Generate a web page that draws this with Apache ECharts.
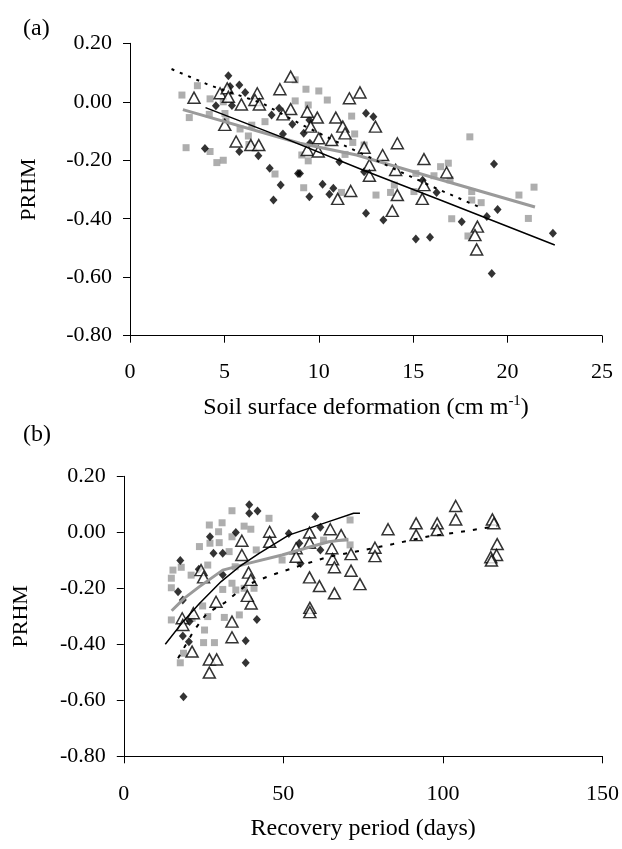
<!DOCTYPE html>
<html>
<head>
<meta charset="utf-8">
<script src="https://cdn.jsdelivr.net/npm/echarts/dist/echarts.min.js"></script>
<style>
  html, body { margin: 0; padding: 0; background: #fff; }
  #chart { width: 622px; height: 849px; }
</style>
</head>
<body>
<div id="chart"></div>
<script>
// ---------- tick values ----------
const yTicks = [-0.8, -0.6, -0.4, -0.2, 0.0, 0.2];
const xTicksA = [0, 5, 10, 15, 20, 25];
const xTicksB = [0, 50, 100, 150];

// ---------- panel (a): soil surface deformation (cm m-1) vs PRHM ----------
const diamondsA = [
  [5.21,0.089],[5.79,0.057],[5.3,0.052],[6.1,0.032],[5.4,-0.013],[4.55,-0.014],[7.5,-0.045],
  [8.6,-0.077],[8.1,-0.11],[7.9,-0.022],[5.79,-0.17],[6.8,-0.185],[3.97,-0.16],[8.9,-0.245],
  [7.98,-0.285],[7.6,-0.336],[7.4,-0.227],[12.5,-0.039],[12.89,-0.051],[9.2,-0.108],[9.5,-0.062],
  [9.53,-0.142],[9.0,-0.245],[9.5,-0.325],[10.2,-0.282],[10.77,-0.296],[10.56,-0.316],[11.09,-0.205],
  [12.4,-0.239],[12.5,-0.381],[13.42,-0.404],[15.14,-0.469],[15.89,-0.463],[16.24,-0.31],[15.5,-0.268],
  [19.28,-0.213],[17.57,-0.41],[18.9,-0.392],[19.47,-0.368],[19.16,-0.587],[22.4,-0.45]
];
const squaresA = [
  [3.57,0.055],[2.75,0.023],[4.24,0.01],[3.14,-0.054],[4.2,-0.043],[5.03,-0.04],[4.94,0.0],
  [2.97,-0.157],[4.24,-0.17],[4.94,-0.2],[4.6,-0.208],[5.83,-0.093],[6.27,-0.117],[6.45,-0.08],
  [7.15,-0.068],[6.3,-0.146],[7.68,-0.247],[8.75,0.003],[8.75,0.075],[5.08,-0.065],
  [9.32,0.043],[10.0,0.037],[10.45,0.006],[9.44,-0.011],[11.74,-0.049],[11.9,-0.11],[11.8,-0.139],
  [12.4,-0.148],[11.39,-0.18],[9.44,-0.202],[9.1,-0.182],[9.2,-0.294],[11.2,-0.31],[13.03,-0.319],
  [13.8,-0.31],[15.04,-0.307],[15.14,-0.245],[16.1,-0.253],[14.0,-0.285],[16.86,-0.21],[16.45,-0.222],
  [16.95,-0.267],[18.1,-0.307],[18.1,-0.336],[18.6,-0.345],[17.04,-0.4],[17.9,-0.459],[21.4,-0.292],
  [20.6,-0.319],[21.1,-0.399],[18.0,-0.12]
];
const trianglesA = [
  [3.39,0.014],[4.77,0.029],[5.15,0.046],[5.21,0.017],[5.9,-0.009],[6.74,0.029],[6.62,0.006],
  [6.85,-0.009],[8.51,0.086],[7.94,0.043],[8.51,-0.025],[8.1,-0.043],[5.02,-0.079],[5.62,-0.136],
  [6.4,-0.148],[6.82,-0.148],[12.18,0.032],[11.62,0.012],[9.39,-0.034],[9.92,-0.054],[10.9,-0.054],
  [11.27,-0.085],[9.57,-0.085],[11.39,-0.108],[10.0,-0.125],[10.68,-0.131],[9.39,-0.165],[9.97,-0.17],
  [13.0,-0.085],[12.4,-0.157],[14.16,-0.142],[13.38,-0.182],[12.68,-0.216],[12.68,-0.253],[14.07,-0.233],
  [15.57,-0.196],[15.57,-0.285],[14.16,-0.319],[11.69,-0.305],[11.0,-0.332],[15.48,-0.332],[13.89,-0.373],
  [16.77,-0.242],[18.4,-0.427],[18.27,-0.456],[18.36,-0.505]
];
const blackLineA = [[4.0,-0.02],[8.0,-0.12],[12.4,-0.235],[16.4,-0.335],[22.5,-0.49]];
const grayLineA = [[2.8,-0.027],[9.0,-0.142],[12.0,-0.182],[16.0,-0.258],[21.45,-0.36]];
const dashLineA = [[2.2,0.112],[4.2,0.057],[7.0,-0.005],[9.0,-0.075],[11.3,-0.148],[12.7,-0.19],[16.0,-0.29],[18.5,-0.36]];

// ---------- panel (b): recovery period (days) vs PRHM ----------
const diamondsB = [
  [39.3,0.098],[39.3,0.068],[41.9,0.076],[27.0,-0.016],[28.1,-0.075],[31.0,-0.075],[23.5,-0.132],
  [17.7,-0.101],[31.0,-0.152],[17.0,-0.212],[18.5,-0.242],[20.6,-0.319],[18.5,-0.37],[20.4,-0.391],
  [38.2,-0.387],[38.2,-0.466],[18.7,-0.587],[35.1,-0.001],[41.7,-0.311],[60.0,0.056],[51.7,-0.004],
  [61.6,0.018],[55.0,-0.039],[61.6,-0.063],[55.4,-0.111]
];
const squaresB = [
  [33.9,0.077],[26.8,0.026],[30.8,0.034],[29.7,0.002],[27.0,-0.039],[29.9,-0.037],[23.7,-0.051],
  [33.9,-0.016],[33.0,-0.069],[26.3,-0.117],[18.0,-0.125],[14.9,-0.164],[14.9,-0.198],[21.1,-0.153],
  [31.0,-0.204],[33.9,-0.182],[35.1,-0.206],[14.9,-0.313],[21.4,-0.307],[26.3,-0.301],[31.5,-0.304],
  [25.3,-0.349],[25.0,-0.394],[28.4,-0.394],[18.7,-0.432],[17.7,-0.466],[37.7,0.022],[39.8,0.011],
  [45.5,0.05],[41.5,-0.063],[49.6,-0.099],[62.6,-0.028],[70.9,0.044],[70.9,-0.045],[37.7,-0.2],
  [40.8,-0.2],[36.2,-0.295],[15.4,-0.135],[34.9,-0.123],[24.7,-0.263]
];
const trianglesB = [
  [37.0,-0.03],[37.0,-0.081],[24.2,-0.135],[25.0,-0.161],[28.9,-0.248],[21.8,-0.289],[18.3,-0.307],
  [18.5,-0.331],[33.9,-0.319],[33.9,-0.375],[21.4,-0.426],[26.8,-0.454],[29.1,-0.454],[26.8,-0.501],
  [39.9,-0.254],[58.3,-0.27],[58.3,-0.285],[45.7,0.002],[45.7,-0.034],[39.1,-0.144],[39.8,-0.17],
  [38.7,-0.227],[58.2,-0.001],[58.2,-0.037],[64.7,0.011],[68.1,-0.01],[54.0,-0.057],[54.0,-0.087],
  [65.2,-0.057],[65.4,-0.096],[66.0,-0.125],[71.2,-0.078],[71.2,-0.137],[74.0,-0.185],[58.2,-0.161],
  [61.3,-0.192],[66.0,-0.218],[82.8,0.011],[78.7,-0.055],[78.7,-0.085],[91.6,0.032],[91.6,-0.01],
  [98.2,0.032],[98.2,0.008],[104.0,0.094],[104.0,0.046],[115.5,0.046],[116.0,0.032],[117.0,-0.042],
  [116.8,-0.081],[115.0,-0.089],[115.2,-0.101]
];
const blackLineB = [[13,-0.40],[18.5,-0.32],[23.7,-0.254],[30.5,-0.176],[36.2,-0.123],[42.4,-0.075],[51.7,-0.01],[64.2,0.038],[72,0.068],[74,0.068]];
const grayLineB = [[15,-0.28],[19,-0.235],[23.7,-0.194],[31,-0.135],[39.3,-0.11],[49.6,-0.081],[56.9,-0.057],[64.2,-0.034],[70.4,-0.025]];
const dashLineB = [[17,-0.45],[22,-0.35],[26,-0.29],[31.8,-0.25],[38.2,-0.19],[45.5,-0.156],[55,-0.12],[63.6,-0.089],[74,-0.066],[84.4,-0.042],[95.3,-0.015],[104.6,0.0],[117,0.022]];

// ---------- styling ----------
const FONT = '"Liberation Serif", "Times New Roman", serif';
const FS = 22;     // tick labels
const NFS = 24;    // x axis titles
const GRAY = '#9a9a9a';

function yAxis(gridIndex, nameGap) {
  return {
    type: 'value', gridIndex,
    min: yTicks[0], max: yTicks[yTicks.length - 1], interval: 0.2,
    name: 'PRHM', nameLocation: 'middle', nameGap,
    nameTextStyle: { fontFamily: FONT, fontSize: 22, color: '#000' },
    axisLine: { show: true, lineStyle: { color: '#000', width: 1 } },
    axisTick: { show: true, inside: false, length: 7, lineStyle: { color: '#000' } },
    axisLabel: { fontFamily: FONT, fontSize: FS, color: '#000', margin: 18,
      formatter: v => (Math.abs(v) < 1e-9 ? 0 : v).toFixed(2) },
    splitLine: { show: false }
  };
}
function xAxis(gridIndex, ticks, name, nameGap, labelMargin) {
  return {
    type: 'value', gridIndex,
    min: ticks[0], max: ticks[ticks.length - 1], interval: ticks[1] - ticks[0],
    name, nameLocation: 'middle', nameGap,
    nameTextStyle: {
      fontFamily: FONT, fontSize: NFS, color: '#000',
      rich: {
        n: { fontFamily: FONT, fontSize: NFS, color: '#000', lineHeight: 28 },
        s: { fontFamily: FONT, fontSize: 15, color: '#000', verticalAlign: 'top', lineHeight: 15 }
      }
    },
    axisLine: { show: true, onZero: false, lineStyle: { color: '#000', width: 1 } },
    axisTick: { show: true, inside: false, length: 7, lineStyle: { color: '#000' } },
    axisLabel: { fontFamily: FONT, fontSize: FS, color: '#000', margin: labelMargin },
    splitLine: { show: false }
  };
}
function scatter(idx, data, kind) {
  const s = { type: 'scatter', xAxisIndex: idx, yAxisIndex: idx, data, silent: true };
  if (kind === 'sq') Object.assign(s, { symbol: 'rect', symbolSize: 7, itemStyle: { color: GRAY }, z: 2 });
  if (kind === 'di') Object.assign(s, { symbol: 'diamond', symbolSize: [8, 9], itemStyle: { color: '#000' }, z: 3 });
  if (kind === 'tr') Object.assign(s, { symbol: 'triangle', symbolSize: [12, 11],
    itemStyle: { color: '#fff', borderColor: '#000', borderWidth: 1.5 }, z: 4 });
  return s;
}
function line(idx, data, color, width, type) {
  return { type: 'line', xAxisIndex: idx, yAxisIndex: idx, data, symbol: 'none', silent: true, z: 5,
    lineStyle: { color, width, type } };
}

const chart = echarts.init(document.getElementById('chart'), null, { renderer: 'canvas' });
chart.setOption({
  animation: false,
  backgroundColor: '#fff',
  title: [
    { text: '(a)', left: 18, top: 12, textStyle: { fontFamily: FONT, fontSize: 24, fontWeight: 'normal', color: '#000' } },
    { text: '(b)', left: 18, top: 418, textStyle: { fontFamily: FONT, fontSize: 24, fontWeight: 'normal', color: '#000' } }
  ],
  grid: [
    { left: 130, top: 43.3, width: 472, height: 292.4, containLabel: false },
    { left: 123.8, top: 476.3, width: 482.2, height: 280, containLabel: false }
  ],
  xAxis: [
    xAxis(0, xTicksA, '{n|Soil surface deformation (cm m}{s|-1}{n|)}', 58, 26),
    xAxis(1, xTicksB, 'Recovery period (days)', 60, 27)
  ],
  yAxis: [yAxis(0, 90), yAxis(1, 92)],
  series: [
    scatter(0, squaresA, 'sq'), scatter(0, diamondsA, 'di'), scatter(0, trianglesA, 'tr'),
    line(0, grayLineA, GRAY, 3, 'solid'), line(0, blackLineA, '#000', 1.5, 'solid'), line(0, dashLineA, '#000', 2, [3, 6]),
    scatter(1, squaresB, 'sq'), scatter(1, diamondsB, 'di'), scatter(1, trianglesB, 'tr'),
    line(1, grayLineB, GRAY, 3, 'solid'), line(1, blackLineB, '#000', 1.5, 'solid'), line(1, dashLineB, '#000', 2, [4, 8])
  ]
});
</script>
</body>
</html>
